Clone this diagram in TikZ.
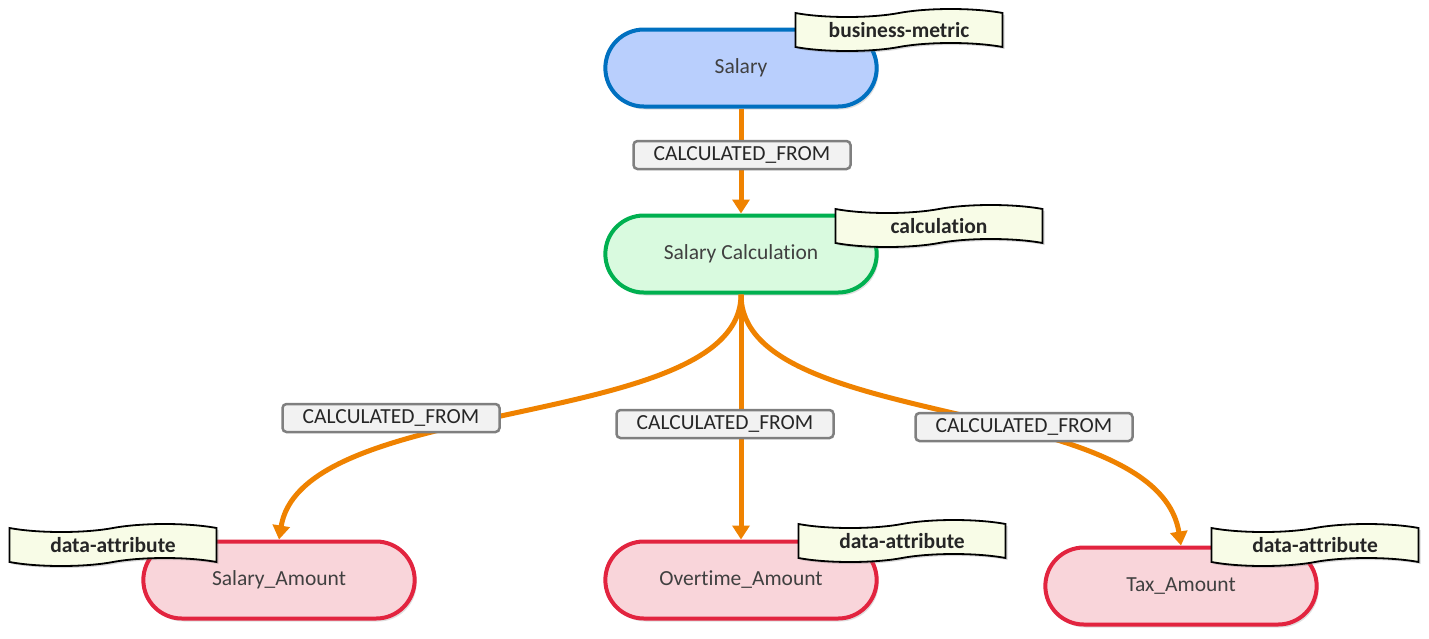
\documentclass[tikz,border=0pt]{standalone}
\usepackage{fontspec}
\setmainfont{Carlito}[Ligatures={NoCommon}]
\usetikzlibrary{shapes.misc,shapes.symbols,arrows.meta,shadows}
\definecolor{bluefill}{HTML}{B9CFFD}
\definecolor{blueline}{HTML}{0070C0}
\definecolor{greenfill}{HTML}{D9FADF}
\definecolor{greenline}{HTML}{00B050}
\definecolor{redfill}{HTML}{F9D5DA}
\definecolor{redline}{HTML}{E2243F}
\definecolor{edgeorange}{HTML}{EF8200}
\definecolor{tagfill}{HTML}{F8FCE7}
\definecolor{labelfill}{HTML}{F2F2F2}
\definecolor{labelline}{HTML}{7F7F7F}
\definecolor{textgray}{HTML}{404040}
\definecolor{darktext}{HTML}{262626}
\begin{document}
\begin{tikzpicture}[x=1pt,y=-1pt,
  entity/.style={rounded rectangle, minimum width=278pt, minimum height=77pt,
    line width=4pt, font=\fontsize{21.5}{25}\selectfont, text=textgray,
    drop shadow={opacity=0.25, shadow xshift=2pt, shadow yshift=-3pt}},
  metric/.style={entity, draw=blueline, fill=bluefill},
  calcnode/.style={entity, draw=greenline, fill=greenfill},
  attr/.style={entity, draw=redline, fill=redfill},
  tagbox/.style={tape, draw=black, line width=1.8pt, fill=tagfill,
    tape bend height=8pt,
    minimum width=207pt, minimum height=42pt, inner sep=0pt,
    font=\bfseries\fontsize{21.5}{25}\selectfont, text=darktext,
    drop shadow={opacity=0.3, shadow xshift=2pt, shadow yshift=-2pt}},
  rel/.style={rectangle, rounded corners=4pt, draw=labelline, fill=labelfill,
    line width=2.5pt, minimum width=217pt, minimum height=28pt, inner sep=0pt,
    font=\fontsize{21.5}{25}\selectfont, text=darktext},
  flow/.style={draw=edgeorange, line width=5pt,
    -{Triangle[length=14pt,width=17pt]}}
]
\useasboundingbox (0,0) rectangle (1429,638);

% entities
\node[metric]   (salary) at (741,68)  {Salary};
\node[calcnode] (calc)   at (741,254) {Salary Calculation};
\node[attr]     (samt)   at (279,580) {Salary\_Amount};
\node[attr]     (oamt)   at (741,580) {Overtime\_Amount};
\node[attr]     (tamt)   at (1181,586) {Tax\_Amount};

% connectors
\draw[flow] (salary.south) -- (calc.north);
\draw[flow] (calc.south) .. controls +(0,137) and +(24,-146) .. (samt.north);
\draw[flow] (calc.south) -- (oamt.north);
\draw[flow] (calc.south) .. controls +(0,137) and +(-24,-152) .. (tamt.north);

% connector labels
\node[rel] (l1) at (742,155) {CALCULATED\_FROM};
\node[rel] (l2) at (391,418) {CALCULATED\_FROM};
\node[rel] (l3) at (725,424) {CALCULATED\_FROM};
\node[rel] (l4) at (1024,427) {CALCULATED\_FROM};

% tags
\node[tagbox] (t1) at (899,30)    {business-metric};
\node[tagbox] (t2) at (939,226)   {calculation};
\node[tagbox] (t3) at (113,545)   {data-attribute};
\node[tagbox] (t4) at (902,541)   {data-attribute};
\node[tagbox] (t5) at (1315,545)  {data-attribute};
\end{tikzpicture}
\end{document}
